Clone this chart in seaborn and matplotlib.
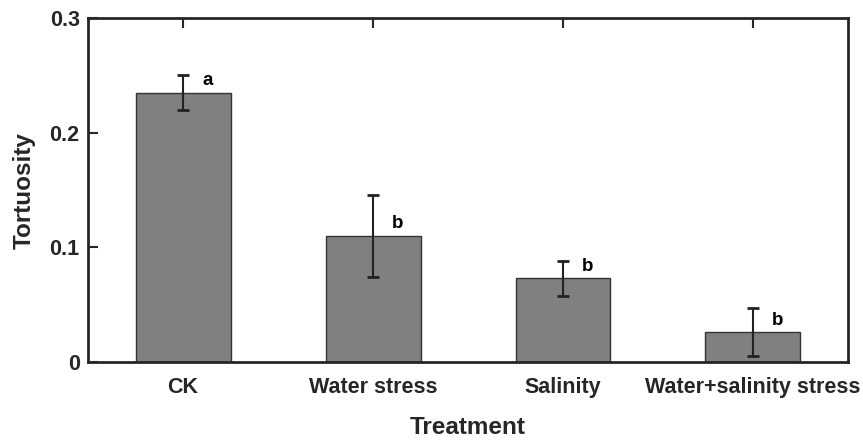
import matplotlib
matplotlib.use("Agg")
import matplotlib.pyplot as plt
import seaborn as sns
import pandas as pd
import numpy as np

categories = ["CK", "Water stress", "Salinity", "Water+salinity stress"]
means = [0.235, 0.110, 0.073, 0.026]
errors = [0.015, 0.036, 0.015, 0.021]
letters = ["a", "b", "b", "b"]

sns.set_style("white")
plt.rcParams['font.family'] = ['Liberation Sans', 'DejaVu Sans']
plt.rcParams['font.weight'] = 'bold'

df = pd.DataFrame({"Treatment": categories, "Tortuosity": means})

fig = plt.figure(figsize=(8.63, 4.41), dpi=100)
ax = fig.add_axes([0.102, 0.179, 0.8806, 0.780])

sns.barplot(data=df, x="Treatment", y="Tortuosity", color="#808080",
            saturation=1, width=0.5, edgecolor="#333333", linewidth=1.0,
            errorbar=None, ax=ax)
xs = np.arange(len(categories))
ax.errorbar(xs, means, yerr=errors, fmt='none', ecolor="#222222",
            elinewidth=1.5, capsize=4.5, capthick=2)
for x, m, t in zip(xs, means, letters):
    ax.text(x + 0.13, m + 0.0105, t, fontsize=13.5, fontweight='bold',
            ha='center', va='center', color='black')

ax.set_xlim(-0.5, 3.5)
ax.set_ylim(0, 0.3)
ax.set_yticks([0, 0.1, 0.2, 0.3])
ax.set_yticklabels(["0", "0.1", "0.2", "0.3"])
ax.tick_params(axis='both', direction='in', length=7, width=1.5,
               color='#262626', labelsize=15.5, labelcolor='#262626')
ax.tick_params(axis='x', top=True, bottom=True, pad=11)
ax.tick_params(axis='y', left=True, right=False, pad=6)
for lab in ax.get_xticklabels() + ax.get_yticklabels():
    lab.set_fontweight('bold')
for s in ax.spines.values():
    s.set_visible(True)
    s.set_color('#262626')
    s.set_linewidth(2)
ax.set_xlabel("Treatment", fontsize=17.5, fontweight='bold', color='#262626', labelpad=13)
ax.set_ylabel("Tortuosity", fontsize=17.5, fontweight='bold', color='#262626', labelpad=10)

fig.savefig("out.png", dpi=100)
